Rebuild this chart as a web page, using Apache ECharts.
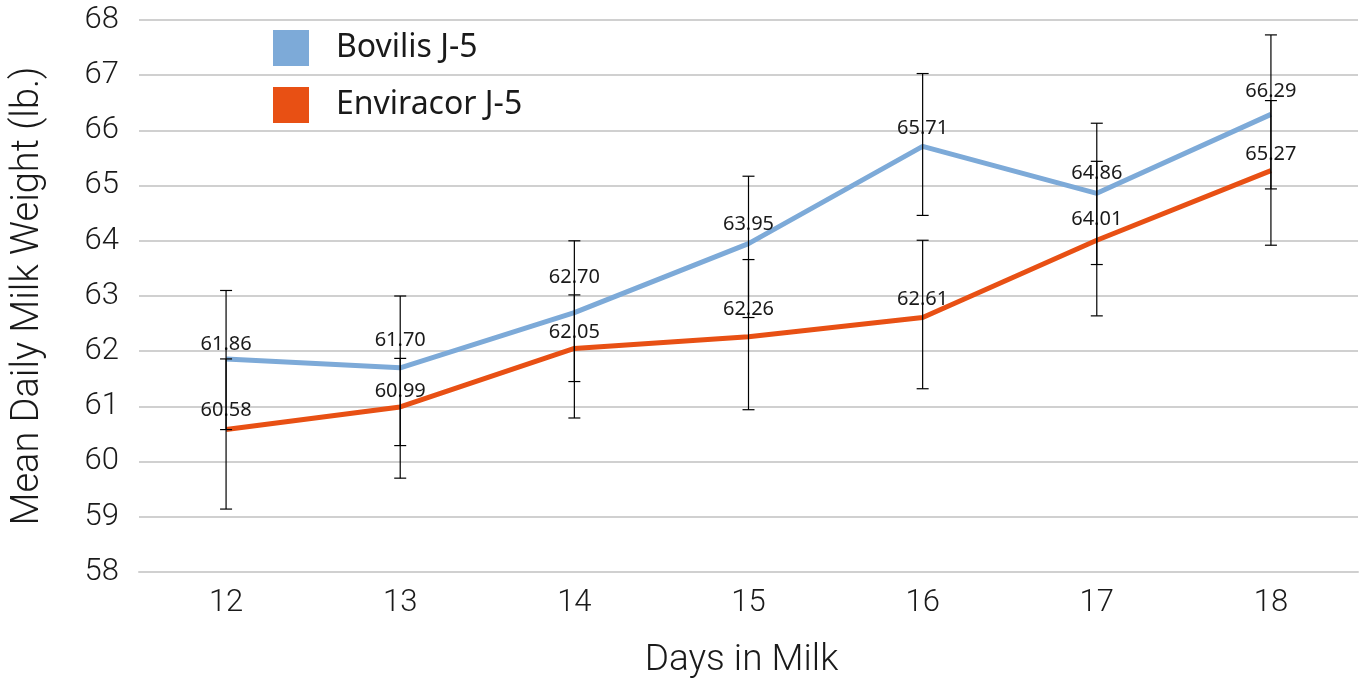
<!DOCTYPE html>
<html>
<head>
<meta charset="utf-8">
<script src="https://cdn.jsdelivr.net/npm/echarts@6/dist/echarts.min.js"></script>
<style>html,body{margin:0;padding:0;background:#fff;}#c{width:1363px;height:684px;}</style>
</head>
<body>
<div id="c"></div>
<script>
const days = ['12', '13', '14', '15', '16', '17', '18'];
const bovilis = [61.86, 61.70, 62.70, 63.95, 65.71, 64.86, 66.29];
const enviracor = [60.58, 60.99, 62.05, 62.26, 62.61, 64.01, 65.27];
const bovilisLow = [60.58, 60.29, 61.45, 62.61, 64.46, 63.57, 64.94];
const bovilisHigh = [63.10, 63.00, 64.00, 65.17, 67.03, 66.13, 67.73];
const enviracorLow = [59.14, 59.70, 60.79, 60.94, 61.32, 62.64, 63.92];
const enviracorHigh = [61.86, 61.87, 63.02, 63.66, 64.01, 65.44, 66.54];
const yTicks = { min: 58, max: 68, interval: 1 };
// label gap above each point (px), as placed in the original
const bovilisLabelGap = [5, 17, 25, 9, 8, 10, 13];
const enviracorLabelGap = [9, 6, 6, 18, 8, 11, 6];

const chart = echarts.init(document.getElementById('c'));
const FONT = 'Roboto';

function errData(low, high) {
  return low.map((v, i) => [i, v, high[i]]);
}
function errRender(params, api) {
  const x = api.value(0);
  const p1 = api.coord([x, api.value(1)]);
  const p2 = api.coord([x, api.value(2)]);
  const w = 6;
  const st = { stroke: '#000', lineWidth: 1.2 };
  return {
    type: 'group',
    children: [
      { type: 'line', shape: { x1: p1[0], y1: p1[1], x2: p2[0], y2: p2[1] }, style: st },
      { type: 'line', shape: { x1: p1[0] - w, y1: p1[1], x2: p1[0] + w, y2: p1[1] }, style: st },
      { type: 'line', shape: { x1: p2[0] - w, y1: p2[1], x2: p2[0] + w, y2: p2[1] }, style: st }
    ]
  };
}
const labelCfg = {
  show: true, position: 'top', distance: 5,
  fontFamily: 'Noto Sans', fontSize: 20, color: '#1a1a1a',
  formatter: p => Number(p.value).toFixed(2)
};
function withGaps(values, gaps) {
  return values.map((v, i) => ({ value: v, label: { distance: gaps[i] } }));
}

chart.setOption({
  animation: false,
  backgroundColor: '#fff',
  grid: { left: 139, right: 5, top: 20, bottom: 112, containLabel: false },
  legend: {
    orient: 'vertical', left: 268, top: 25,
    itemWidth: 36, itemHeight: 36, itemGap: 21, icon: 'rect',
    textStyle: { fontFamily: 'Noto Sans', fontSize: 32, color: '#1a1a1a', padding: [0, 0, 0, 22] },
    data: ['Bovilis J-5', 'Enviracor J-5']
  },
  xAxis: {
    type: 'category', data: days, boundaryGap: true,
    name: 'Days in Milk', nameLocation: 'middle', nameGap: 70,
    nameTextStyle: { fontFamily: FONT, fontWeight: 300, fontSize: 37, color: '#1a1a1a', padding: [0, 14, 0, 0] },
    axisLine: { lineStyle: { color: '#d0d0d0', width: 2 } },
    axisTick: { alignWithLabel: true, inside: true, length: 15, lineStyle: { color: '#d0d0d0', width: 2 } },
    axisLabel: { fontFamily: FONT, fontWeight: 300, fontSize: 31, color: '#1a1a1a', margin: 16 },
    splitLine: { show: false }
  },
  yAxis: {
    type: 'value', min: yTicks.min, max: yTicks.max, interval: yTicks.interval,
    name: 'Mean Daily Milk Weight (lb.)', nameLocation: 'middle', nameGap: 92,
    nameTextStyle: { fontFamily: FONT, fontWeight: 300, fontSize: 38, color: '#1a1a1a' },
    axisLine: { show: false }, axisTick: { show: false },
    axisLabel: { fontFamily: FONT, fontWeight: 300, fontSize: 31, color: '#1a1a1a', margin: 20 },
    splitLine: { lineStyle: { color: '#d0d0d0', width: 2 } }
  },
  series: [
    {
      name: 'Bovilis J-5', type: 'line', data: withGaps(bovilis, bovilisLabelGap),
      showSymbol: true, symbol: 'circle', symbolSize: 0.01,
      lineStyle: { color: '#7daad8', width: 5 }, itemStyle: { color: '#7daad8' },
      label: labelCfg, z: 3
    },
    {
      name: 'Enviracor J-5', type: 'line', data: withGaps(enviracor, enviracorLabelGap),
      showSymbol: true, symbol: 'circle', symbolSize: 0.01,
      lineStyle: { color: '#e85014', width: 5 }, itemStyle: { color: '#e85014' },
      label: labelCfg, z: 3
    },
    { type: 'custom', renderItem: errRender, data: errData(bovilisLow, bovilisHigh), encode: { x: 0, y: [1, 2] }, z: 4, silent: true },
    { type: 'custom', renderItem: errRender, data: errData(enviracorLow, enviracorHigh), encode: { x: 0, y: [1, 2] }, z: 4, silent: true }
  ]
});
</script>
</body>
</html>
